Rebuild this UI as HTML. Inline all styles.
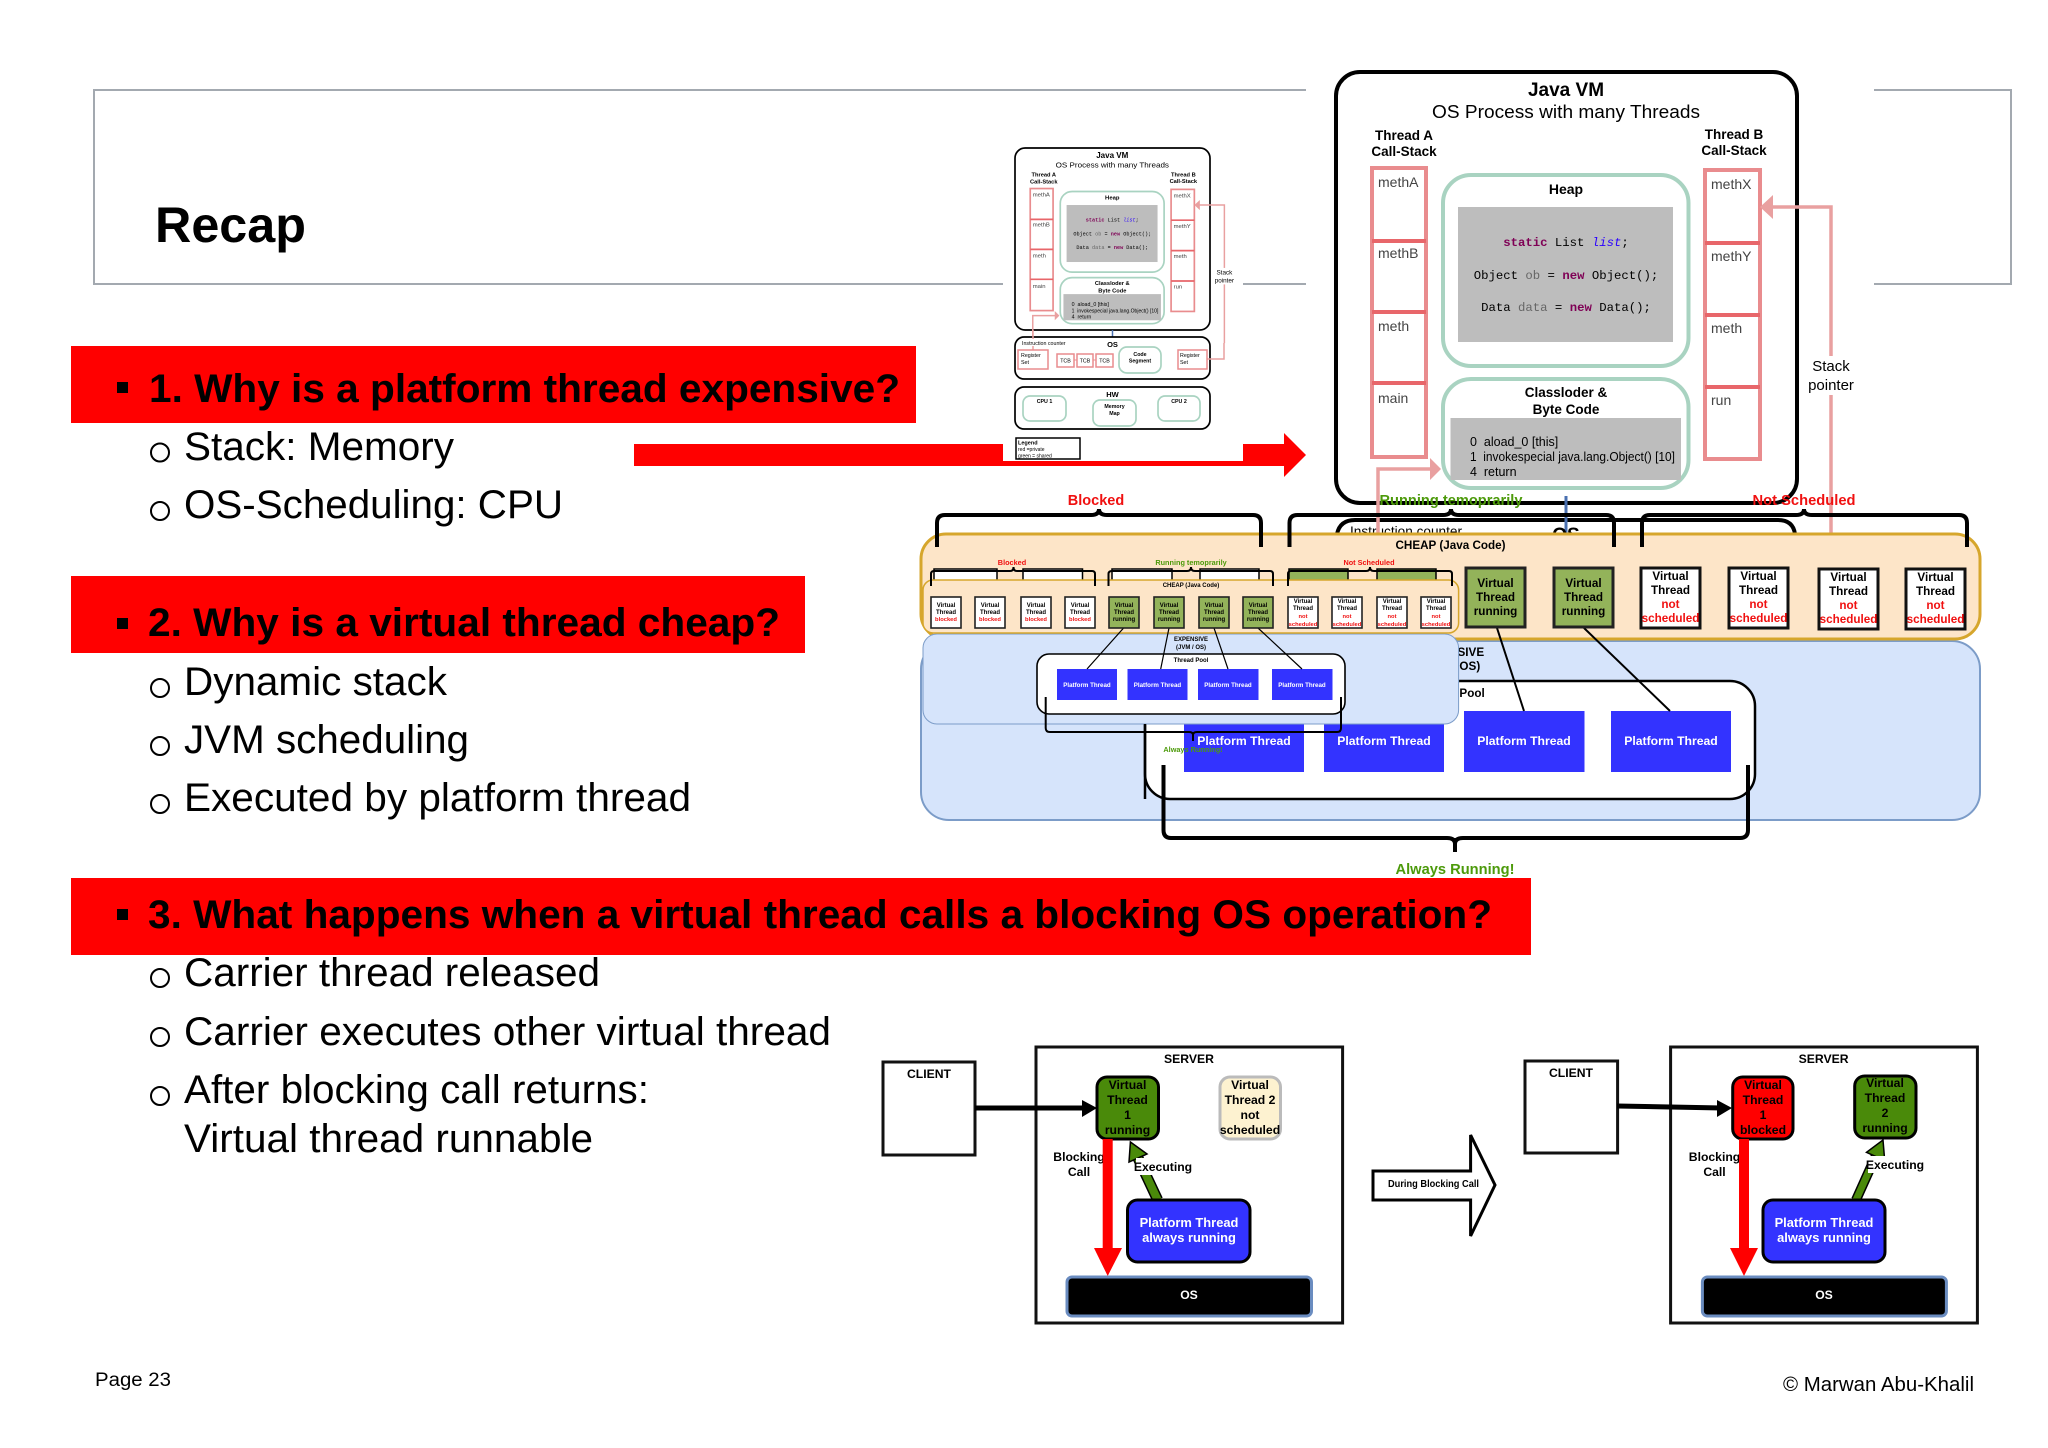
<!DOCTYPE html>
<html><head><meta charset="utf-8"><title>Recap</title>
<style>
html,body{margin:0;padding:0;background:#fff;width:2048px;height:1448px;overflow:hidden}
svg{display:block}
text{font-family:"Liberation Sans",Arial,sans-serif;fill:#000}
.b{font-weight:bold}
.m{text-anchor:middle}
.mono{font-family:"Liberation Mono",monospace}
.red{fill:#f01010}
.grn{fill:#4c9a0a}
.wh{fill:#fff}
.pk{fill:#fff;stroke:#e98c8e;stroke-width:4}
.dv{stroke:#e8666a;stroke-width:4}
.gb{fill:#fff;stroke:#a9d3c1;stroke-width:4}
.sm{fill:#444}
.vs{fill:#fff;stroke:#222;stroke-width:1.6}
.vg{fill:#93b35a;stroke:#222;stroke-width:1.6}
.t6{font-size:6px;font-weight:bold;text-anchor:middle}
.t6w{font-size:6.2px;font-weight:bold;text-anchor:middle;fill:#fff}
.t6r{font-size:5.8px;font-weight:bold;text-anchor:middle;fill:#f01010}
.t13{font-size:12.2px;font-weight:bold;text-anchor:middle}
.t12{font-size:11.7px;font-weight:bold;text-anchor:middle}
.t12r{font-size:11.7px;font-weight:bold;text-anchor:middle;fill:#f01010}
.t13w{font-size:12.2px;font-weight:bold;text-anchor:middle;fill:#fff}
.t14w{font-size:12.9px;font-weight:bold;text-anchor:middle;fill:#fff}
.vb{fill:#fff;stroke:#111;stroke-width:3}
.vgb{fill:#93b35a;stroke:#222;stroke-width:3}
.br{fill:none;stroke:#000;stroke-width:4}
.brs{fill:none;stroke:#000;stroke-width:2}
.bl{fill:#3333ff}
.sub{font-size:40px}
.ban{font-size:40px;font-weight:bold}
.cir{fill:none;stroke:#000;stroke-width:2}
</style></head><body>
<svg width="2048" height="1448" viewBox="0 0 2048 1448" xmlns="http://www.w3.org/2000/svg">
<rect width="2048" height="1448" fill="#fff"/>

<!-- title frame -->
<path d="M1306 90H94V284H1306M1874 90H2011V284H1874" fill="none" stroke="#a3a9b0" stroke-width="2"/>
<text x="155" y="242" class="b" font-size="50" textLength="151" lengthAdjust="spacingAndGlyphs">Recap</text>

<!-- left text -->
<rect x="71" y="346" width="845" height="77" fill="#ff0000"/>
<rect x="117" y="382" width="11" height="11" fill="#000"/>
<text x="149" y="402" class="ban" textLength="751" lengthAdjust="spacingAndGlyphs">1. Why is a platform thread expensive?</text>
<ellipse cx="160" cy="452.500" rx="9" ry="9" class="cir"/>
<text x="184" y="460" class="sub" textLength="270" lengthAdjust="spacingAndGlyphs">Stack: Memory</text>
<ellipse cx="160" cy="511" rx="9" ry="9" class="cir"/>
<text x="184" y="518" class="sub" textLength="379" lengthAdjust="spacingAndGlyphs">OS-Scheduling: CPU</text>

<rect x="71" y="576" width="734" height="77" fill="#ff0000"/>
<rect x="117" y="618" width="11" height="11" fill="#000"/>
<text x="148" y="636" class="ban" textLength="632" lengthAdjust="spacingAndGlyphs">2. Why is a virtual thread cheap?</text>
<ellipse cx="160" cy="688" rx="9" ry="9" class="cir"/>
<text x="184" y="695" class="sub" textLength="263" lengthAdjust="spacingAndGlyphs">Dynamic stack</text>
<ellipse cx="160" cy="746" rx="9" ry="9" class="cir"/>
<text x="184" y="753" class="sub" textLength="285" lengthAdjust="spacingAndGlyphs">JVM scheduling</text>
<ellipse cx="160" cy="804" rx="9" ry="9" class="cir"/>
<text x="184" y="811" class="sub" textLength="507" lengthAdjust="spacingAndGlyphs">Executed by platform thread</text>

<rect x="71" y="878" width="1460" height="77" fill="#ff0000"/>
<rect x="117" y="909" width="11" height="11" fill="#000"/>
<text x="148" y="928" class="ban" textLength="1344" lengthAdjust="spacingAndGlyphs">3. What happens when a virtual thread calls a blocking OS operation?</text>
<ellipse cx="160" cy="978" rx="9" ry="9" class="cir"/>
<text x="184" y="986" class="sub" textLength="416" lengthAdjust="spacingAndGlyphs">Carrier thread released</text>
<ellipse cx="160" cy="1037" rx="9" ry="9" class="cir"/>
<text x="184" y="1045" class="sub" textLength="647" lengthAdjust="spacingAndGlyphs">Carrier executes other virtual thread</text>
<ellipse cx="160" cy="1096" rx="9" ry="9" class="cir"/>
<text x="184" y="1103" class="sub" textLength="465" lengthAdjust="spacingAndGlyphs">After blocking call returns:</text>
<text x="184" y="1152" class="sub" textLength="409" lengthAdjust="spacingAndGlyphs">Virtual thread runnable</text>

<text x="95" y="1386" font-size="19" textLength="76" lengthAdjust="spacingAndGlyphs">Page 23</text>
<text x="1783" y="1391" font-size="20" textLength="191" lengthAdjust="spacingAndGlyphs">© Marwan Abu-Khalil</text>

<!-- big red arrow -->
<polygon points="634,444 1284,444 1284,433 1306,455 1284,477 1284,466 634,466" fill="#ff0000"/>
<rect x="1003" y="140" width="240" height="321" fill="#fff"/>

<!-- small Java VM inset -->
<g transform="translate(1015 148) scale(.423 .4223) translate(-1336 -72)">
  <rect x="1336" y="72" width="461" height="431" rx="24" fill="#fff" stroke="#000" stroke-width="4"/>
  <text x="1566" y="96" class="b m" font-size="19">Java VM</text>
  <text x="1566" y="118" class="m" font-size="18" fill="#333" textLength="268" lengthAdjust="spacingAndGlyphs">OS Process with many Threads</text>
  <text x="1404" y="140" class="b m" font-size="13.500">Thread A</text>
  <text x="1404" y="156" class="b m" font-size="13.500">Call-Stack</text>
  <text x="1734" y="139" class="b m" font-size="13.500">Thread B</text>
  <text x="1734" y="155" class="b m" font-size="13.500">Call-Stack</text>
  <rect x="1372" y="168" width="54" height="289" class="pk"/>
  <path d="M1372 241H1426M1372 312H1426M1372 383H1426" class="dv"/>
  <text x="1378" y="187" class="sm" font-size="14">methA</text>
  <text x="1378" y="258" class="sm" font-size="14">methB</text>
  <text x="1378" y="331" class="sm" font-size="14">meth</text>
  <text x="1378" y="403" class="sm" font-size="14">main</text>
  <rect x="1705" y="170" width="55" height="289" class="pk"/>
  <path d="M1705 243H1760M1705 315H1760M1705 387H1760" class="dv"/>
  <text x="1711" y="189" class="sm" font-size="14">methX</text>
  <text x="1711" y="261" class="sm" font-size="14">methY</text>
  <text x="1711" y="333" class="sm" font-size="14">meth</text>
  <text x="1711" y="405" class="sm" font-size="14">run</text>
  <rect x="1443" y="175" width="245.500" height="191" rx="28" class="gb"/>
  <text x="1566" y="194" class="b m" font-size="14">Heap</text>
  <rect x="1458" y="207" width="215" height="135" fill="#bdbdbd"/>
  <text x="1566" y="246" class="mono m" font-size="12.300" fill="#222"><tspan font-weight="bold" fill="#7f0055">static</tspan> List <tspan font-style="italic" fill="#2a00ff">list</tspan>;</text>
  <text x="1566" y="279" class="mono m" font-size="12.300" fill="#222">Object <tspan fill="#666">ob</tspan> = <tspan font-weight="bold" fill="#7f0055">new</tspan> Object();</text>
  <text x="1566" y="311" class="mono m" font-size="12.300" fill="#222">Data <tspan fill="#666">data</tspan> = <tspan font-weight="bold" fill="#7f0055">new</tspan> Data();</text>
  <rect x="1443" y="379" width="245.500" height="109" rx="28" class="gb"/>
  <text x="1566" y="397" class="b m" font-size="13.500">Classloder &amp;</text>
  <text x="1566" y="414" class="b m" font-size="13.500">Byte Code</text>
  <rect x="1450.500" y="418" width="230.500" height="62" fill="#bdbdbd"/>
  <text x="1470" y="446" font-size="12.500" fill="#222">0&#160;&#160;aload_0 [this]</text>
  <text x="1470" y="461" font-size="12.500" fill="#222" textLength="205" lengthAdjust="spacingAndGlyphs">1&#160;&#160;invokespecial java.lang.Object() [10]</text>
  <text x="1470" y="476" font-size="12.500" fill="#222">4&#160;&#160;return</text>
  <path d="M1378 534V469H1432" fill="none" stroke="#e9a0a0" stroke-width="3.500"/>
  <polygon points="1441,469 1430,458 1430,480" fill="#e9a0a0"/>
  <path d="M1831 534V207H1770" fill="none" stroke="#e9a0a0" stroke-width="3.500"/>
  <polygon points="1760,207 1773,195 1773,219" fill="#e9a0a0"/>
  <rect x="1806" y="356" width="50" height="39" fill="#fff"/>
  <text x="1831" y="371" class="m" font-size="15">Stack</text>
  <text x="1831" y="390" class="m" font-size="15">pointer</text>
</g>
<path d="M1112.500 330V337" stroke="#4a70b0" stroke-width="1.500"/>
<!-- small OS -->
<rect x="1015" y="337" width="195" height="42" rx="9" fill="#fff" stroke="#000" stroke-width="1.700"/>
<path d="M1033 330V350" stroke="#e9a0a0" stroke-width="1.500"/>
<path d="M1224 343V359H1207" fill="none" stroke="#e9a0a0" stroke-width="1.500"/>
<text x="1112.500" y="347" class="b m" font-size="7.500">OS</text>
<rect x="1021" y="339" width="47" height="7" fill="#fff"/>
<text x="1022" y="345" font-size="5.300" fill="#333">Instruction counter</text>
<rect x="1018" y="350" width="30" height="19" fill="#fff" stroke="#e98c8e" stroke-width="1.500"/>
<text x="1021" y="357" font-size="5.300" fill="#444">Register</text><text x="1021" y="364" font-size="5.300" fill="#444">Set</text>
<path d="M1074 360H1077M1093 360H1096" stroke="#e98c8e"/>
<rect x="1057" y="354" width="17" height="13" fill="#fff" stroke="#e98c8e" stroke-width="1.500"/>
<rect x="1077" y="354" width="16" height="13" fill="#fff" stroke="#e98c8e" stroke-width="1.500"/>
<rect x="1096" y="354" width="17" height="13" fill="#fff" stroke="#e98c8e" stroke-width="1.500"/>
<text x="1065.500" y="362.500" class="m" font-size="5.300" fill="#444">TCB</text>
<text x="1085" y="362.500" class="m" font-size="5.300" fill="#444">TCB</text>
<text x="1104.500" y="362.500" class="m" font-size="5.300" fill="#444">TCB</text>
<rect x="1119" y="347" width="42" height="26" rx="8" fill="#fff" stroke="#a9d3c1" stroke-width="1.700"/>
<text x="1140" y="356" class="b m" font-size="5.300">Code</text><text x="1140" y="362.500" class="b m" font-size="5.300">Segment</text>
<rect x="1178" y="350" width="29" height="19" fill="#fff" stroke="#e98c8e" stroke-width="1.500"/>
<text x="1180" y="357" font-size="5.300" fill="#444">Register</text><text x="1180" y="364" font-size="5.300" fill="#444">Set</text>
<!-- small HW -->
<rect x="1015" y="387" width="195" height="42" rx="9" fill="#fff" stroke="#000" stroke-width="1.700"/>
<text x="1112.500" y="397" class="b m" font-size="7.500">HW</text>
<rect x="1023" y="396" width="43" height="25" rx="7" fill="#fff" stroke="#a9d3c1" stroke-width="1.700"/>
<rect x="1158" y="396" width="42" height="25" rx="7" fill="#fff" stroke="#a9d3c1" stroke-width="1.700"/>
<rect x="1093" y="400" width="43" height="26" rx="7" fill="#fff" stroke="#a9d3c1" stroke-width="1.700"/>
<text x="1044.500" y="403" class="b m" font-size="5.300">CPU 1</text>
<text x="1179" y="403" class="b m" font-size="5.300">CPU 2</text>
<text x="1114.500" y="408" class="b m" font-size="5.300">Memory</text>
<text x="1114.500" y="415" class="b m" font-size="5.300">Map</text>
<!-- legend -->
<rect x="1016" y="438" width="64" height="21" fill="#fff" stroke="#000" stroke-width="1.500"/>
<text x="1018" y="444.500" class="b" font-size="5.500">Legend</text>
<text x="1018" y="451" font-size="5" fill="#f03030">red =private</text>
<text x="1018" y="457.500" font-size="5" fill="#30b070">green = shared</text>

<!-- big Java VM -->
<rect x="1336" y="72" width="461" height="431" rx="24" fill="#fff" stroke="#000" stroke-width="4"/>
<text x="1566" y="96" class="b m" font-size="19">Java VM</text>
<text x="1566" y="118" class="m" font-size="18" fill="#333" textLength="268" lengthAdjust="spacingAndGlyphs">OS Process with many Threads</text>
<text x="1404" y="140" class="b m" font-size="13.500">Thread A</text>
<text x="1404" y="156" class="b m" font-size="13.500">Call-Stack</text>
<text x="1734" y="139" class="b m" font-size="13.500">Thread B</text>
<text x="1734" y="155" class="b m" font-size="13.500">Call-Stack</text>
<rect x="1372" y="168" width="54" height="289" class="pk"/>
<path d="M1372 241H1426M1372 312H1426M1372 383H1426" class="dv"/>
<text x="1378" y="187" class="sm" font-size="14">methA</text>
<text x="1378" y="258" class="sm" font-size="14">methB</text>
<text x="1378" y="331" class="sm" font-size="14">meth</text>
<text x="1378" y="403" class="sm" font-size="14">main</text>
<rect x="1705" y="170" width="55" height="289" class="pk"/>
<path d="M1705 243H1760M1705 315H1760M1705 387H1760" class="dv"/>
<text x="1711" y="189" class="sm" font-size="14">methX</text>
<text x="1711" y="261" class="sm" font-size="14">methY</text>
<text x="1711" y="333" class="sm" font-size="14">meth</text>
<text x="1711" y="405" class="sm" font-size="14">run</text>
<rect x="1443" y="175" width="245.500" height="191" rx="28" class="gb"/>
<text x="1566" y="194" class="b m" font-size="14">Heap</text>
<rect x="1458" y="207" width="215" height="135" fill="#bdbdbd"/>
<text x="1566" y="246" class="mono m" font-size="12.300" fill="#222"><tspan font-weight="bold" fill="#7f0055">static</tspan> List <tspan font-style="italic" fill="#2a00ff">list</tspan>;</text>
<text x="1566" y="279" class="mono m" font-size="12.300" fill="#222">Object <tspan fill="#666">ob</tspan> = <tspan font-weight="bold" fill="#7f0055">new</tspan> Object();</text>
<text x="1566" y="311" class="mono m" font-size="12.300" fill="#222">Data <tspan fill="#666">data</tspan> = <tspan font-weight="bold" fill="#7f0055">new</tspan> Data();</text>
<rect x="1443" y="379" width="245.500" height="109" rx="28" class="gb"/>
<text x="1566" y="397" class="b m" font-size="13.500">Classloder &amp;</text>
<text x="1566" y="414" class="b m" font-size="13.500">Byte Code</text>
<rect x="1450.500" y="418" width="230.500" height="62" fill="#bdbdbd"/>
<text x="1470" y="446" font-size="12.500" fill="#222">0&#160;&#160;aload_0 [this]</text>
<text x="1470" y="461" font-size="12.500" fill="#222" textLength="205" lengthAdjust="spacingAndGlyphs">1&#160;&#160;invokespecial java.lang.Object() [10]</text>
<text x="1470" y="476" font-size="12.500" fill="#222">4&#160;&#160;return</text>
<!-- clipped OS box top -->
<path d="M1337 534Q1340 520 1355 520H1778Q1793 520 1795 534" fill="#fff" stroke="#000" stroke-width="4"/>
<path d="M1566 496V534" stroke="#4a70b0" stroke-width="3"/>
<text x="1350" y="536" font-size="14" fill="#222" textLength="112" lengthAdjust="spacingAndGlyphs">Instruction counter</text>
<text x="1566" y="541" class="b m" font-size="19">OS</text>
<path d="M1378 534V469H1432" fill="none" stroke="#e9a0a0" stroke-width="3.500"/>
<polygon points="1441,469 1430,458 1430,480" fill="#e9a0a0"/>
<path d="M1831 534V207H1770" fill="none" stroke="#e9a0a0" stroke-width="3.500"/>
<polygon points="1760,207 1773,195 1773,219" fill="#e9a0a0"/>
<rect x="1806" y="356" width="50" height="39" fill="#fff"/>
<text x="1831" y="371" class="m" font-size="15">Stack</text>
<text x="1831" y="390" class="m" font-size="15">pointer</text>

<!-- big labels / braces -->
<text x="1096" y="505" class="b m red" font-size="14.500">Blocked</text>
<text x="1451" y="505" class="b m grn" font-size="14.500" textLength="143" lengthAdjust="spacingAndGlyphs">Running temoprarily</text>
<text x="1804" y="505" class="b m red" font-size="14.500" textLength="103" lengthAdjust="spacingAndGlyphs">Not Scheduled</text>

<!-- big blue -->
<rect x="921" y="641" width="1059" height="179" rx="28" fill="#d6e4fb" stroke="#7c9cc8" stroke-width="2"/>
<text x="1451" y="656" class="t12">EXPENSIVE</text>
<text x="1451" y="670" class="t12">(JVM / OS)</text>
<rect x="1145" y="681" width="610" height="118" rx="25" fill="#fff" stroke="#000" stroke-width="2.500"/>
<text x="1451" y="697" class="t12">Thread Pool</text>
<rect x="1184" y="711" width="120" height="61" class="bl"/>
<rect x="1324" y="711" width="120" height="61" class="bl"/>
<rect x="1464" y="711" width="120.500" height="61" class="bl"/>
<rect x="1611" y="711" width="120" height="61" class="bl"/>
<text x="1244" y="745" class="t13w">Platform Thread</text>
<text x="1384" y="745" class="t13w">Platform Thread</text>
<text x="1524" y="745" class="t13w">Platform Thread</text>
<text x="1671" y="745" class="t13w">Platform Thread</text>
<path d="M1163.500 765V830Q1163.500 838 1171 838H1447Q1455 838 1455 844Q1455 838 1463 838H1740Q1748 838 1748 830V765" class="br"/>
<path d="M1455 838V852" stroke="#000" stroke-width="4"/>
<text x="1455" y="874" class="b m grn" font-size="14.500" textLength="119" lengthAdjust="spacingAndGlyphs">Always Running!</text>

<!-- big orange -->
<rect x="921" y="534" width="1059" height="105" rx="25" fill="#fde5c8" stroke="#d6a62c" stroke-width="3"/>
<path d="M937 547V523Q937 515 945 515H1091Q1099 515 1099 509Q1099 515 1107 515H1253Q1261 515 1261 523V547" class="br"/>
<path d="M1289.500 547V523Q1289.500 515 1297.500 515H1443Q1451 515 1451 509Q1451 515 1459 515H1606Q1614 515 1614 523V547" class="br"/>
<path d="M1642 547V523Q1642 515 1650 515H1796Q1804 515 1804 509Q1804 515 1812 515H1959Q1967 515 1967 523V547" class="br"/>
<text x="1450.500" y="549" class="t12" textLength="110" lengthAdjust="spacingAndGlyphs">CHEAP (Java Code)</text>

<path d="M1497 628L1524 711M1584 628L1670 711" stroke="#000" stroke-width="2"/>
<rect x="1466" y="568" width="59" height="59" class="vgb"/>
<rect x="1554" y="568" width="59" height="59" class="vgb"/>
<text x="1495.500" y="587" class="t12">Virtual</text><text x="1495.500" y="601" class="t12">Thread</text><text x="1495.500" y="615" class="t12">running</text>
<text x="1583.500" y="587" class="t12">Virtual</text><text x="1583.500" y="601" class="t12">Thread</text><text x="1583.500" y="615" class="t12">running</text>
<rect x="1641" y="568" width="59" height="60" class="vb"/>
<rect x="1729" y="568" width="59" height="60" class="vb"/>
<rect x="1819" y="569" width="59" height="60" class="vb"/>
<rect x="1906" y="569" width="59" height="60" class="vb"/>
<text x="1670.500" y="580" class="t12">Virtual</text><text x="1670.500" y="594" class="t12">Thread</text><text x="1670.500" y="608" class="t12r">not</text><text x="1670.500" y="622" class="t12r">scheduled</text>
<text x="1758.500" y="580" class="t12">Virtual</text><text x="1758.500" y="594" class="t12">Thread</text><text x="1758.500" y="608" class="t12r">not</text><text x="1758.500" y="622" class="t12r">scheduled</text>
<text x="1848.500" y="581" class="t12">Virtual</text><text x="1848.500" y="595" class="t12">Thread</text><text x="1848.500" y="609" class="t12r">not</text><text x="1848.500" y="623" class="t12r">scheduled</text>
<text x="1935.500" y="581" class="t12">Virtual</text><text x="1935.500" y="595" class="t12">Thread</text><text x="1935.500" y="609" class="t12r">not</text><text x="1935.500" y="623" class="t12r">scheduled</text>

<!-- small panel: blue -->
<rect x="923" y="634" width="535.600" height="90" rx="14" fill="#d6e4fb" stroke="#7c9cc8" stroke-width="1"/>
<text x="1191" y="641" class="t6">EXPENSIVE</text>
<text x="1191" y="649" class="t6">(JVM / OS)</text>
<path d="M1145 724V799" stroke="#000" stroke-width="2.500"/>
<rect x="1037" y="654" width="308" height="60" rx="12" fill="#fff" stroke="#000" stroke-width="1.600"/>
<text x="1191" y="662" class="t6">Thread Pool</text>
<rect x="1057" y="669" width="60" height="31" class="bl"/>
<rect x="1127.500" y="669" width="60" height="31" class="bl"/>
<rect x="1198" y="669" width="60.500" height="31" class="bl"/>
<rect x="1272" y="669" width="60.500" height="31" class="bl"/>
<text x="1087" y="687" class="t6w">Platform Thread</text>
<text x="1157.500" y="687" class="t6w">Platform Thread</text>
<text x="1228" y="687" class="t6w">Platform Thread</text>
<text x="1302" y="687" class="t6w">Platform Thread</text>
<path d="M1045.700 697V728Q1045.700 732 1050 732H1189Q1193 732 1193 735Q1193 732 1197 732H1337Q1341 732 1341 728V697" class="brs"/>
<path d="M1193 732V741" stroke="#000" stroke-width="2"/>
<text x="1193" y="752" class="b m grn" font-size="7.300">Always Running!</text>

<!-- small panel: top pieces -->
<rect x="934" y="569" width="63" height="14" fill="#fff" stroke="#000" stroke-width="1.500"/>
<rect x="1023" y="569" width="59.500" height="14" fill="#fff" stroke="#000" stroke-width="1.500"/>
<rect x="1112" y="569" width="60" height="14" fill="#fff" stroke="#000" stroke-width="1.500"/>
<rect x="1200" y="569" width="59" height="14" fill="#fff" stroke="#000" stroke-width="1.500"/>
<rect x="1289" y="569" width="59" height="14" fill="#93b35a" stroke="#000" stroke-width="1.500"/>
<rect x="1377" y="569" width="59" height="14" fill="#93b35a" stroke="#000" stroke-width="1.500"/>
<!-- small orange -->
<rect x="923" y="580" width="535.600" height="53" rx="10" fill="#fde5c8" stroke="#d6a62c" stroke-width="1.500"/>
<path d="M931 586V574Q931 571 934 571H1010Q1013.500 571 1013.500 567Q1013.500 571 1017 571H1092Q1095 571 1095 574V586" class="brs"/>
<path d="M1108.500 586V574Q1108.500 571 1112 571H1187Q1191 571 1191 567Q1191 571 1195 571H1270Q1273 571 1273 574V586" class="brs"/>
<path d="M1288 586V574Q1288 571 1291 571H1366Q1370 571 1370 567Q1370 571 1374 571H1449Q1452 571 1452 574V586" class="brs"/>
<text x="1012" y="565" class="b m red" font-size="7.300">Blocked</text>
<text x="1191" y="565" class="b m grn" font-size="7.300">Running temoprarily</text>
<text x="1369" y="565" class="b m red" font-size="7.300">Not Scheduled</text>
<text x="1191" y="587" class="t6">CHEAP (Java Code)</text>

<path d="M1123.600 628L1087 669M1169 628L1160.700 669M1214 628L1228 669M1258 628L1302 669" stroke="#000" stroke-width="1.200"/>

<rect x="931" y="597" width="30" height="31" class="vs"/><text x="946" y="607" class="t6">Virtual</text><text x="946" y="614" class="t6">Thread</text><text x="946" y="621" class="t6r">blocked</text>
<rect x="975" y="597" width="30" height="31" class="vs"/><text x="990" y="607" class="t6">Virtual</text><text x="990" y="614" class="t6">Thread</text><text x="990" y="621" class="t6r">blocked</text>
<rect x="1021" y="597" width="30" height="31" class="vs"/><text x="1036" y="607" class="t6">Virtual</text><text x="1036" y="614" class="t6">Thread</text><text x="1036" y="621" class="t6r">blocked</text>
<rect x="1065" y="597" width="30" height="31" class="vs"/><text x="1080" y="607" class="t6">Virtual</text><text x="1080" y="614" class="t6">Thread</text><text x="1080" y="621" class="t6r">blocked</text>

<rect x="1109" y="597" width="30" height="31" class="vg"/><text x="1124" y="607" class="t6">Virtual</text><text x="1124" y="614" class="t6">Thread</text><text x="1124" y="621" class="t6">running</text>
<rect x="1154" y="597" width="30" height="31" class="vg"/><text x="1169" y="607" class="t6">Virtual</text><text x="1169" y="614" class="t6">Thread</text><text x="1169" y="621" class="t6">running</text>
<rect x="1199" y="597" width="30" height="31" class="vg"/><text x="1214" y="607" class="t6">Virtual</text><text x="1214" y="614" class="t6">Thread</text><text x="1214" y="621" class="t6">running</text>
<rect x="1243" y="597" width="30" height="31" class="vg"/><text x="1258" y="607" class="t6">Virtual</text><text x="1258" y="614" class="t6">Thread</text><text x="1258" y="621" class="t6">running</text>

<rect x="1288" y="597" width="30" height="31" class="vs"/><text x="1303" y="603" class="t6">Virtual</text><text x="1303" y="610" class="t6">Thread</text><text x="1303" y="618" class="t6r">not</text><text x="1303" y="626" class="t6r">scheduled</text>
<rect x="1332" y="597" width="30" height="31" class="vs"/><text x="1347" y="603" class="t6">Virtual</text><text x="1347" y="610" class="t6">Thread</text><text x="1347" y="618" class="t6r">not</text><text x="1347" y="626" class="t6r">scheduled</text>
<rect x="1377" y="597" width="30" height="31" class="vs"/><text x="1392" y="603" class="t6">Virtual</text><text x="1392" y="610" class="t6">Thread</text><text x="1392" y="618" class="t6r">not</text><text x="1392" y="626" class="t6r">scheduled</text>
<rect x="1421" y="597" width="30" height="31" class="vs"/><text x="1436" y="603" class="t6">Virtual</text><text x="1436" y="610" class="t6">Thread</text><text x="1436" y="618" class="t6r">not</text><text x="1436" y="626" class="t6r">scheduled</text>

<!-- bottom left scene -->
<rect x="883" y="1062" width="92" height="93" fill="#fff" stroke="#111" stroke-width="3"/>
<text x="929" y="1078" class="t13">CLIENT</text>
<rect x="1036" y="1047" width="306.600" height="276" fill="#fff" stroke="#111" stroke-width="3"/>
<text x="1189" y="1063" class="t13">SERVER</text>
<rect x="1097" y="1077" width="61.500" height="62" rx="10" fill="#4a8a0a" stroke="#000" stroke-width="3"/>
<text x="1127.500" y="1089" class="t13">Virtual</text><text x="1127.500" y="1104" class="t13">Thread</text><text x="1127.500" y="1119" class="t13">1</text><text x="1127.500" y="1134" class="t13">running</text>
<rect x="1220" y="1077" width="60.500" height="62" rx="10" fill="#fdf2d0" stroke="#bbb" stroke-width="3"/>
<text x="1250" y="1089" class="t13">Virtual</text><text x="1250" y="1104" class="t13">Thread 2</text><text x="1250" y="1119" class="t13">not</text><text x="1250" y="1134" class="t13">scheduled</text>
<path d="M975 1108H1086" stroke="#000" stroke-width="5"/>
<polygon points="1097,1108 1082,1100 1082,1117" fill="#000"/>
<rect x="1048" y="1148" width="58" height="32" fill="#fff"/>
<text x="1079" y="1161" class="t13">Blocking</text><text x="1079" y="1176" class="t13">Call</text>
<path d="M1107.700 1139V1250" stroke="#f00" stroke-width="10"/>
<polygon points="1107.700,1276 1094,1248 1122,1248" fill="#f00"/>
<path d="M1157.700 1200L1138 1158" stroke="#000" stroke-width="11"/>
<path d="M1157.700 1200L1138 1158" stroke="#4a8a0a" stroke-width="8"/>
<polygon points="1130.400,1142 1147,1154 1129,1162" fill="#4a8a0a" stroke="#000" stroke-width="1.500"/>
<rect x="1136" y="1158" width="56" height="17" fill="#fff"/>
<text x="1163" y="1171" class="t13">Executing</text>
<rect x="1127.500" y="1200" width="122.500" height="62" rx="10" fill="#3333ff" stroke="#000" stroke-width="3"/>
<text x="1189" y="1227" class="t14w">Platform Thread</text><text x="1189" y="1242" class="t14w">always running</text>
<rect x="1067" y="1277" width="244.500" height="39" rx="5" fill="#000" stroke="#6a8cc0" stroke-width="3"/>
<text x="1189" y="1299" class="t13w">OS</text>

<!-- middle arrow -->
<polygon points="1373,1171 1470.600,1171 1470.600,1135 1495,1185 1470.600,1236 1470.600,1200 1373,1200" fill="#fff" stroke="#000" stroke-width="3"/>
<text x="1433.500" y="1187" class="b m" font-size="10" textLength="91" lengthAdjust="spacingAndGlyphs">During Blocking Call</text>

<!-- bottom right scene -->
<rect x="1525" y="1061" width="92.600" height="92" fill="#fff" stroke="#111" stroke-width="3"/>
<text x="1571" y="1077" class="t13">CLIENT</text>
<rect x="1670.600" y="1047" width="306.800" height="276" fill="#fff" stroke="#111" stroke-width="3"/>
<text x="1823.600" y="1063" class="t13">SERVER</text>
<rect x="1732.700" y="1077" width="60.300" height="62" rx="10" fill="#ff0000" stroke="#000" stroke-width="3"/>
<text x="1763" y="1089" class="t13">Virtual</text><text x="1763" y="1104" class="t13">Thread</text><text x="1763" y="1119" class="t13">1</text><text x="1763" y="1134" class="t13">blocked</text>
<rect x="1854.700" y="1076" width="61.300" height="62" rx="10" fill="#4a8a0a" stroke="#000" stroke-width="3"/>
<text x="1885" y="1087" class="t13">Virtual</text><text x="1885" y="1102" class="t13">Thread</text><text x="1885" y="1117" class="t13">2</text><text x="1885" y="1132" class="t13">running</text>
<path d="M1617 1106L1722 1108" stroke="#000" stroke-width="5"/>
<polygon points="1732,1108 1717,1100 1717,1117" fill="#000"/>
<rect x="1684" y="1148" width="58" height="32" fill="#fff"/>
<text x="1714.500" y="1161" class="t13">Blocking</text><text x="1714.500" y="1176" class="t13">Call</text>
<path d="M1744 1139V1250" stroke="#f00" stroke-width="10"/>
<polygon points="1744,1276 1730,1248 1758,1248" fill="#f00"/>
<path d="M1856 1200L1875.600 1156.400" stroke="#000" stroke-width="10"/>
<path d="M1856 1200L1875.600 1156.400" stroke="#4a8a0a" stroke-width="7"/>
<polygon points="1883,1140 1884.700,1160.500 1866.500,1152.300" fill="#4a8a0a" stroke="#000" stroke-width="1.500"/>
<rect x="1868" y="1156" width="56" height="17" fill="#fff"/>
<text x="1895" y="1169" class="t13">Executing</text>
<rect x="1763" y="1200" width="122" height="62" rx="10" fill="#3333ff" stroke="#000" stroke-width="3"/>
<text x="1824" y="1227" class="t14w">Platform Thread</text><text x="1824" y="1242" class="t14w">always running</text>
<rect x="1702.400" y="1277" width="244" height="39" rx="5" fill="#000" stroke="#6a8cc0" stroke-width="3"/>
<text x="1824" y="1299" class="t13w">OS</text>
</svg>
</body></html>
